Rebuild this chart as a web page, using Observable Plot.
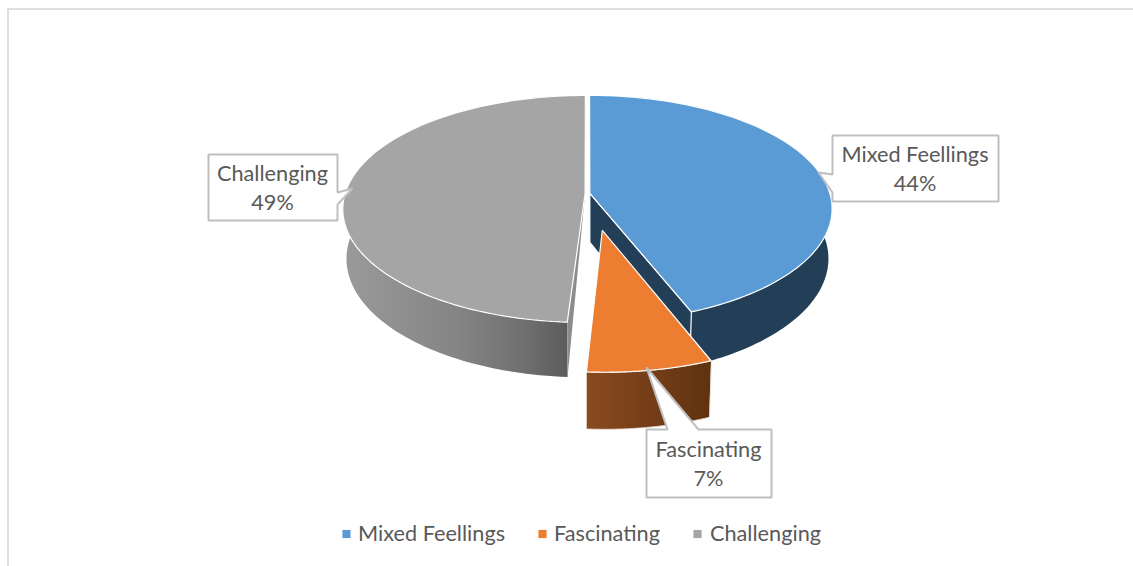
<!DOCTYPE html>
<html>
<head>
<meta charset="utf-8">
<script src="https://cdn.jsdelivr.net/npm/d3@7"></script>
<script src="https://cdn.jsdelivr.net/npm/@observablehq/plot@0.6"></script>
<style>html,body{margin:0;padding:0;background:#fff}svg{display:block}</style>
</head>
<body>
<div id="chart"></div>
<script>
// Data
const categories = ["Mixed Feellings", "Fascinating", "Challenging"];
const shares = [44, 7, 49];
const topColors = ["#5b9bd5", "#ed7d31", "#a5a5a5"];

// Layout of the perspective pie (values in page pixels or unit-circle radii)
const explode = [0.01, 0.32, 0.01];
const nudgeX = [0, 0.009, 0];
const view = {cx: 587, cy: 193, f: 240, g: 111.4, k: 0.1366};
const base = {drop: 49, sx: 0.985, sy: 1.045};

const legendSwatchX = [346, 542, 697];
const legendTextX = [357.5, 553.5, 709.5];
const legendY = 533.5;

const boxes = [
  {x1: 832, x2: 998, y1: 135, y2: 201, tipAt: "left", tip: [818, 172], j1: 174, j2: 192},
  {x1: 646, x2: 771, y1: 429, y2: 497, tipAt: "top", tip: [646, 367], j1: 667, j2: 698},
  {x1: 208, x2: 337, y1: 154, y2: 220, tipAt: "right", tip: [352, 188], j1: 192, j2: 204}
];

// Geometry derived from the values
const arcs = d3.pie().sort(null).startAngle(0).endAngle(2 * Math.PI)(shares);

function top3d(X, Z) {
  const w = 1 + view.k * Z;
  return {dx: view.f * X / w, dy: -view.g * Z / w};
}
function topPt(i, r, t) {
  const m = (arcs[i].startAngle + arcs[i].endAngle) / 2;
  const X = explode[i] * Math.sin(m) + nudgeX[i] + r * Math.sin(t);
  const Z = explode[i] * Math.cos(m) + r * Math.cos(t);
  const p = top3d(X, Z);
  return {x: view.cx + p.dx, y: view.cy + p.dy};
}
function botPt(i, r, t) {
  const p = topPt(i, r, t);
  return {x: view.cx + (p.x - view.cx) * base.sx, y: view.cy + base.drop + (p.y - view.cy) * base.sy};
}
function arcPts(fn, i, a0, a1) {
  return d3.range(0, 121).map(j => fn(i, 1, a0 + (a1 - a0) * j / 120));
}
const a = i => arcs[i];
const topFace = i => [topPt(i, 0, 0), ...arcPts(topPt, i, a(i).startAngle, a(i).endAngle)];
const outerWall = i => [
  ...arcPts(topPt, i, a(i).startAngle, a(i).endAngle),
  ...arcPts(botPt, i, a(i).startAngle, a(i).endAngle).reverse()
];

function poly(pts, fill, stroke = "white", strokeWidth = 1.2) {
  return Plot.line(pts, {x: "x", y: "y", fill, stroke, strokeWidth, curve: "linear-closed", strokeLinejoin: "miter"});
}
function boxPts(b) {
  const P = (x, y) => ({x, y});
  const pts = [P(b.x1, b.y1)];
  if (b.tipAt === "top") pts.push(P(b.j1, b.y1), P(...b.tip), P(b.j2, b.y1));
  pts.push(P(b.x2, b.y1));
  if (b.tipAt === "right") pts.push(P(b.x2, b.j1), P(...b.tip), P(b.x2, b.j2));
  pts.push(P(b.x2, b.y2), P(b.x1, b.y2));
  if (b.tipAt === "left") pts.push(P(b.x1, b.j2), P(...b.tip), P(b.x1, b.j1));
  return pts;
}

function defs() {
  const d = d3.create("svg:defs");
  const grad = (id, x1, x2, stops) => {
    const g = d.append("linearGradient").attr("id", id).attr("gradientUnits", "userSpaceOnUse")
      .attr("x1", x1).attr("x2", x2).attr("y1", 0).attr("y2", 0);
    stops.forEach(([o, c]) => g.append("stop").attr("offset", o).attr("stop-color", c));
  };
  grad("greyWall", 343, 567, [[0, "#9a9a9a"], [0.5, "#858585"], [0.8, "#707070"], [1, "#5c5c5c"]]);
  grad("orangeWall", 586, 711, [[0, "#8a4a20"], [1, "#5f3210"]]);
  return d.node();
}

const font = "Lato";
const textColor = "#595959";

const plot = Plot.plot({
  width: 1133,
  height: 566,
  margin: 0,
  x: {domain: [0, 1133], range: [0, 1133], axis: null},
  y: {domain: [0, 566], range: [0, 566], axis: null},
  style: {background: "white", fontFamily: font},
  marks: [
    defs,
    // frame
    Plot.ruleY([8.5], {x1: 7, x2: 1133, stroke: "#dedede", strokeWidth: 2}),
    Plot.ruleX([7.5], {y1: 8, y2: 566, stroke: "#dedede", strokeWidth: 2}),
    // grey: outer wall, inner wall, top
    poly(outerWall(2), "url(#greyWall)", "none"),
    poly([topPt(2, 0, 0), topPt(2, 1, a(2).startAngle), botPt(2, 1, a(2).startAngle)], "#8c8c8c", "none"),
    poly(topFace(2), topColors[2]),
    // blue: outer wall, inner wall, top
    poly(outerWall(0), "#233f58", "none"),
    poly([topPt(0, 0, 0), topPt(0, 1, a(0).endAngle), botPt(0, 1, a(0).endAngle), botPt(0, 0, 0)], "#233f58"),
    poly(topFace(0), topColors[0]),
    // orange: outer wall, top
    poly(outerWall(1), "url(#orangeWall)", "#e8e0d8", 0.8),
    poly(topFace(1), topColors[1]),
    // callouts
    ...boxes.map(b => poly(boxPts(b), "white", "#bfbfbf", 2)),
    Plot.text(boxes, {
      x: b => (b.x1 + b.x2) / 2 - 0.5,
      y: b => (b.y1 + b.y2) / 2 - 1,
      text: (b, i) => `${categories[i]}\n${shares[i]}%`,
      fontSize: 21.7,
      lineHeight: 1.33,
      fill: textColor,
      fontFamily: font
    }),
    // legend
    Plot.dot(categories, {
      x: (d, i) => legendSwatchX[i], y: legendY, symbol: "square", r: 4.6,
      fill: (d, i) => topColors[i], stroke: "none"
    }),
    Plot.text(categories, {
      x: (d, i) => legendTextX[i], y: legendY, text: d => d, textAnchor: "start",
      fontSize: 21.7, fill: textColor, fontFamily: font
    })
  ]
});
document.getElementById("chart").append(plot);
</script>
</body>
</html>
